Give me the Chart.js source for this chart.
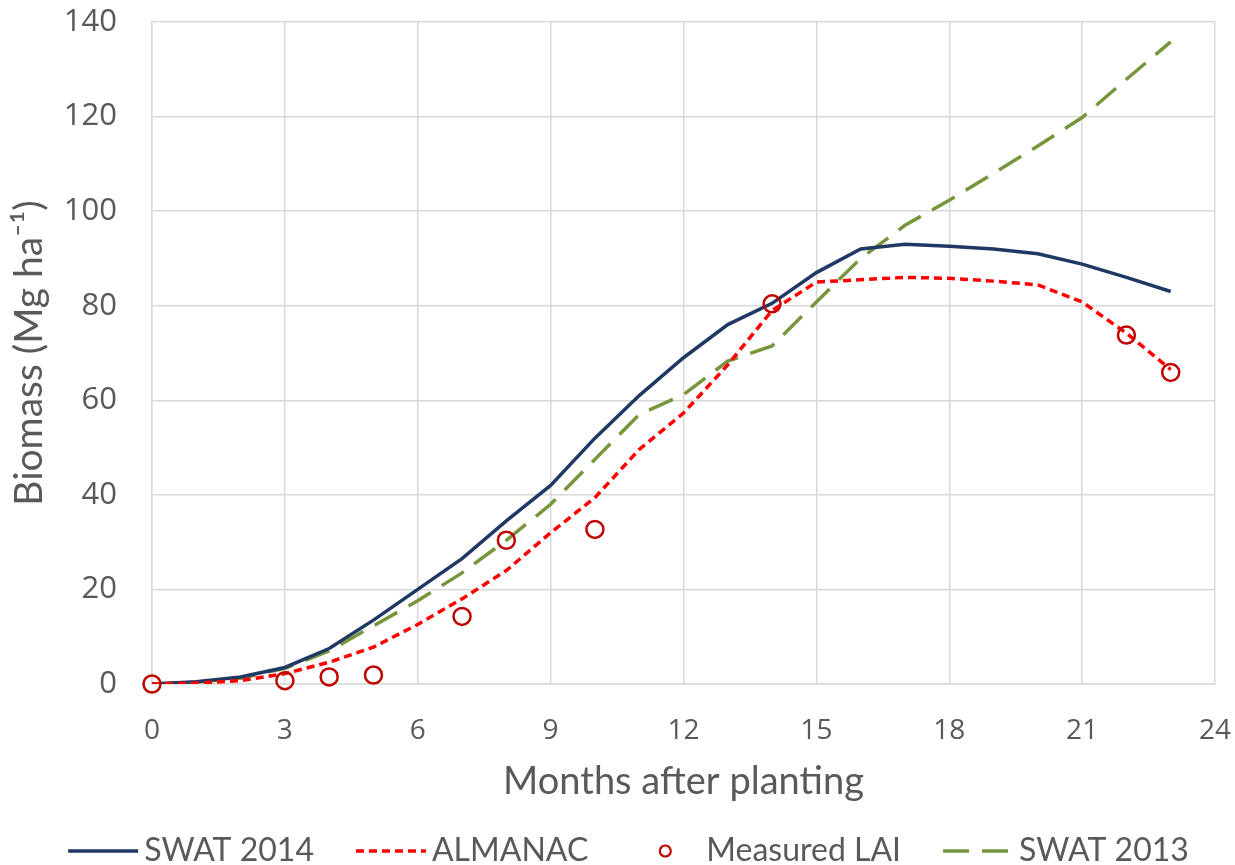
<!DOCTYPE html>
<html>
<head>
<meta charset="utf-8">
<script src="https://cdn.jsdelivr.net/npm/chart.js@4"></script>
<style>
  html, body { margin: 0; padding: 0; background: #fff; }
  #wrap { width: 1235px; height: 865px; }
</style>
</head>
<body>
<div id="wrap"><canvas id="c" width="1235" height="865"></canvas></div>
<script>
// months after planting (model output, monthly)
const months = [0,1,2,3,4,5,6,7,8,9,10,11,12,13,14,15,16,17,18,19,20,21,22,23];
const swat2014 = [0,0.5,1.5,3.5,7.5,13.5,20,26.5,34.5,42,52,61,69,76,80.5,87,92,93,92.6,92,91,88.8,86,83];
const almanac  = [0,0.2,0.7,2.2,4.6,7.8,12.6,18,24,32,39.4,49.6,57.3,67.5,79,85,85.5,86,85.8,85.2,84.4,80.8,74.2,66.5];
const swat2013 = [0,0.4,1.2,3.3,7,12.3,17.6,23.5,30.4,38,47.5,57,61.2,68.3,71.5,80.8,90,97,102.3,108,113.8,119.8,127.9,135.8];
// field measurements
const measuredMonths = [0,3,4,5,7,8,10,14,22,23];
const measured = [0,0.7,1.5,1.9,14.3,30.4,32.7,80.4,73.8,65.9];
const xTicks = [0,3,6,9,12,15,18,21,24];
const yTicks = [0,20,40,60,80,100,120,140];

const TXT = '#595959';
const GRID = '#d9d9d9';
const NAVY = '#203864';
const RED = '#ff0000';
const DARKRED = '#c00000';
const GREEN = '#77963c';

function pts(xs, ys){ return xs.map((x, i) => ({x: x, y: ys[i]})); }

// legend drawn under the axis title, samples copy each dataset's style
const bottomLegend = {
  id: 'bottomLegend',
  afterDraw(chart){
    const ctx = chart.ctx;
    const y = 851;
    const sampleW = 70, textGap = 6, itemGap = 42;
    ctx.save();
    ctx.font = '32px Lato';
    ctx.textBaseline = 'middle';
    const items = chart.data.datasets.map(ds => ({ds: ds, w: ctx.measureText(ds.label).width}));
    let total = 0;
    items.forEach((it, i) => { total += sampleW + textGap + it.w + (i ? itemGap : 0); });
    let x = chart.width / 2 + 11 - total / 2;
    items.forEach(it => {
      const ds = it.ds;
      if (ds.showLine === false) {
        ctx.beginPath();
        ctx.arc(x + sampleW / 2, y, 5.5, 0, Math.PI * 2);
        ctx.setLineDash([]);
        ctx.lineWidth = 2.2;
        ctx.strokeStyle = ds.pointBorderColor;
        ctx.stroke();
      } else {
        ctx.beginPath();
        ctx.moveTo(x, y);
        ctx.lineTo(x + sampleW, y);
        ctx.setLineDash(ds.borderDash || []);
        ctx.lineWidth = ds.borderWidth;
        ctx.strokeStyle = ds.borderColor;
        ctx.stroke();
      }
      ctx.setLineDash([]);
      ctx.fillStyle = TXT;
      ctx.fillText(ds.label, x + sampleW + textGap, y);
      x += sampleW + textGap + it.w + itemGap;
    });
    ctx.restore();
  }
};

new Chart(document.getElementById('c'), {
  type: 'scatter',
  data: {
    datasets: [
      { label: 'SWAT 2014', data: pts(months, swat2014), showLine: true, borderColor: NAVY, borderWidth: 3.5, pointRadius: 0, tension: 0, order: 2 },
      { label: 'ALMANAC', data: pts(months, almanac), showLine: true, borderColor: RED, borderWidth: 3.5, borderDash: [8, 5], pointRadius: 0, tension: 0, order: 1 },
      { label: 'Measured LAI', data: pts(measuredMonths, measured), showLine: false, clip: false, pointStyle: 'circle', pointRadius: 8.5, pointBorderWidth: 2.5, pointBorderColor: DARKRED, pointBackgroundColor: 'rgba(0,0,0,0)', order: 0 },
      { label: 'SWAT 2013', data: pts(months, swat2013), showLine: true, borderColor: GREEN, borderWidth: 3.5, borderDash: [26, 13], pointRadius: 0, tension: 0, order: 3 }
    ]
  },
  options: {
    responsive: false,
    animation: false,
    layout: { padding: { top: 22, right: 20, left: 0, bottom: 58 } },
    plugins: { legend: { display: false }, tooltip: { enabled: false } },
    scales: {
      x: {
        type: 'linear', min: 0, max: 24,
        afterBuildTicks: s => { s.ticks = xTicks.map(v => ({value: v})); },
        afterFit: s => { s.height = 123; },
        grid: { color: GRID, lineWidth: 1.5, drawTicks: true, tickLength: 27, tickColor: 'rgba(0,0,0,0)' },
        border: { color: GRID, width: 1.5 },
        ticks: { color: TXT, font: { family: 'Open Sans', size: 28 }, padding: 3, maxRotation: 0 },
        title: { display: true, text: 'Months after planting', color: TXT, font: { family: 'Lato', size: 38 }, padding: { top: 0, bottom: 2 } }
      },
      y: {
        min: 0, max: 140,
        afterBuildTicks: s => { s.ticks = yTicks.map(v => ({value: v})); },
        afterFit: s => { s.width = 152; },
        grid: { color: GRID, lineWidth: 1.5, drawTicks: true, tickLength: 32, tickColor: 'rgba(0,0,0,0)' },
        border: { color: GRID, width: 1.5 },
        ticks: { color: TXT, font: { family: 'Open Sans', size: 31 }, padding: 3 },
        title: { display: true, text: 'Biomass (Mg ha\u207B\u00B9)', color: TXT, font: { family: 'Lato', size: 39 }, padding: { top: 6, bottom: 0 } }
      }
    }
  },
  plugins: [bottomLegend]
});
</script>
</body>
</html>
